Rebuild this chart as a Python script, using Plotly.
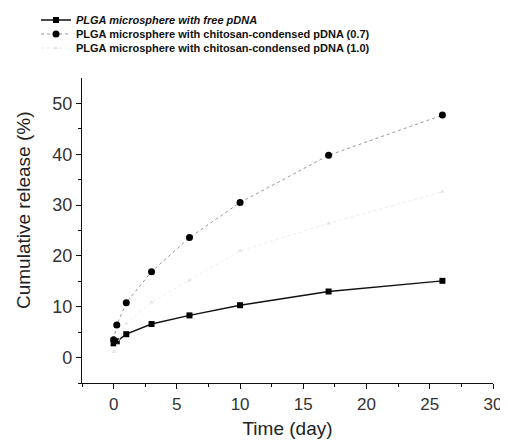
import plotly.graph_objects as go

t1 = [0, 0.25, 1, 3, 6, 10, 17, 26]
free = [2.8, 3.2, 4.6, 6.6, 8.3, 10.3, 13.0, 15.1]
t2 = [0, 0.25, 1, 3, 6, 10, 17, 26]
chi07 = [3.5, 6.4, 10.8, 16.9, 23.6, 30.5, 39.8, 47.7]
t3 = [0, 1, 3, 6, 10, 17, 26]
chi10 = [1.1, 6.7, 10.9, 15.2, 21.0, 26.4, 32.6]

names = ["<b><i>PLGA microsphere with free pDNA</i></b>",
         "<b>PLGA microsphere with chitosan-condensed pDNA (0.7)</b>",
         "<b>PLGA microsphere with chitosan-condensed pDNA (1.0)</b>"]

FONT = "Liberation Sans, Arial, sans-serif"
L, T, R, B = 74, 70, 23, 65
PW, PH = 508 - L - R, 440 - T - B

fig = go.Figure()
fig.add_trace(go.Scatter(x=t1, y=free, name=names[0], mode="lines+markers", legend="legend",
                         line=dict(color="#111", width=1.4),
                         marker=dict(symbol="square", size=6, color="#000")))
fig.add_trace(go.Scatter(x=t2, y=chi07, name=names[1], mode="lines+markers", legend="legend2",
                         line=dict(color="#999", width=1, dash="dot"),
                         marker=dict(symbol="circle", size=7, color="#000")))
fig.add_trace(go.Scatter(x=t3, y=chi10, name=names[2], mode="lines+markers", legend="legend3",
                         line=dict(color="#ededed", width=1, dash="dot"),
                         marker=dict(symbol="triangle-up", size=4, color="#e4e4e4")))

legfont = dict(family=FONT, size=11, color="#111")
def leg(c):
    return dict(x=(28 - L) / PW, y=1 + (T - (c - 8)) / PH, xanchor="left", yanchor="middle",
                font=legfont, bgcolor="rgba(0,0,0,0)", itemwidth=30)

axfont = dict(family=FONT, size=17, color="#333")
fig.update_layout(
    width=508, height=440,
    margin=dict(l=L, r=R, t=T, b=B, autoexpand=False),
    paper_bgcolor="white", plot_bgcolor="white",
    showlegend=True,
    legend=leg(20),
    legend2=leg(34),
    legend3=leg(48),
    font=axfont,
    annotations=[dict(text="Cumulative release (%)", textangle=-90, xref="paper", yref="paper",
                      x=(15 - L) / PW, y=(440 - B - 203) / PH, xanchor="center", yanchor="middle",
                      showarrow=False, font=dict(family=FONT, size=19, color="#222"))],
)
fig.update_xaxes(range=[-2.5, 30], tickvals=[0, 5, 10, 15, 20, 25, 30],
                 showline=True, linecolor="#111", linewidth=1.3, showgrid=False, zeroline=False,
                 ticks="outside", ticklen=5, tickcolor="#111",
                 minor=dict(tickvals=[-2.5, 2.5, 7.5, 12.5, 17.5, 22.5, 27.5], ticks="outside", ticklen=3, tickcolor="#111"),
                 title=dict(text="Time (day)", font=dict(family=FONT, size=19, color="#222"), standoff=9),
                 tickfont=axfont)
fig.update_yaxes(range=[-5, 55], tickvals=[0, 10, 20, 30, 40, 50],
                 showline=True, linecolor="#111", linewidth=1.3, showgrid=False, zeroline=False,
                 ticks="outside", ticklen=5, tickcolor="#111",
                 minor=dict(tickvals=[-5, 5, 15, 25, 35, 45], ticks="outside", ticklen=3, tickcolor="#111"),
                 tickfont=dict(family=FONT, size=18, color="#333"))

fig.write_html("out.html")
